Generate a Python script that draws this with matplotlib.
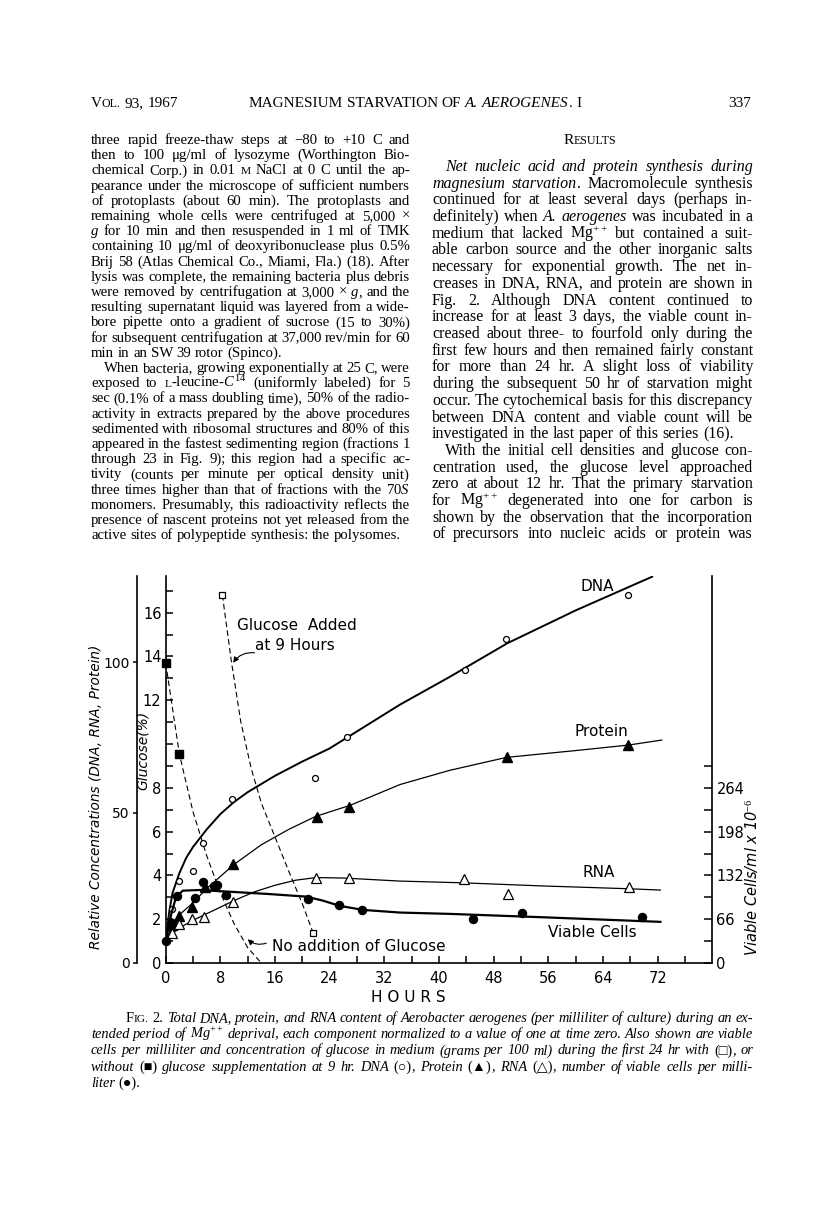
import matplotlib
matplotlib.use("Agg")
import matplotlib.pyplot as plt

W, H = 816, 1205
SERIF = ["Liberation Serif", "DejaVu Sans"]
SANS = ["DejaVu Sans"]

plt.rcParams["mathtext.fontset"] = "custom"
plt.rcParams["mathtext.rm"] = "Liberation Serif"
plt.rcParams["mathtext.it"] = "Liberation Serif:italic"
plt.rcParams["mathtext.bf"] = "Liberation Serif:bold"

# ---- page text ('*' toggles italic, '~' toggles small caps) ----
left_lines = [
    ("three rapid freeze-thaw steps at \u221280 to +10 C and", True, 0),
    ("then to 100 \u03bcg/ml of lysozyme (Worthington Bio-", True, 0),
    ("chemical Corp.) in 0.01 ~M~ NaCl at 0 C until the ap-", True, 0),
    ("pearance under the microscope of sufficient numbers", True, 0),
    ("of protoplasts (about 60 min). The protoplasts and", True, 0),
    ("remaining whole cells were centrifuged at 5,000 \u00d7", True, 0),
    ("*g* for 10 min and then resuspended in 1 ml of TMK", True, 0),
    ("containing 10 \u03bcg/ml of deoxyribonuclease plus 0.5%", True, 0),
    ("Brij 58 (Atlas Chemical Co., Miami, Fla.) (18). After", True, 0),
    ("lysis was complete, the remaining bacteria plus debris", True, 0),
    ("were removed by centrifugation at 3,000 \u00d7 *g*, and the", True, 0),
    ("resulting supernatant liquid was layered from a wide-", True, 0),
    ("bore pipette onto a gradient of sucrose (15 to 30%)", True, 0),
    ("for subsequent centrifugation at 37,000 rev/min for 60", True, 0),
    ("min in an SW 39 rotor (Spinco).", False, 0),
    ("When bacteria, growing exponentially at 25 C, were", True, 1),
    ("exposed to ~L~-leucine-$C^{14}$ (uniformly labeled) for 5", True, 0),
    ("sec (0.1% of a mass doubling time), 50% of the radio-", True, 0),
    ("activity in extracts prepared by the above procedures", True, 0),
    ("sedimented with ribosomal structures and 80% of this", True, 0),
    ("appeared in the fastest sedimenting region (fractions 1", True, 0),
    ("through 23 in Fig. 9); this region had a specific ac-", True, 0),
    ("tivity (counts per minute per optical density unit)", True, 0),
    ("three times higher than that of fractions with the 70$S$", True, 0),
    ("monomers. Presumably, this radioactivity reflects the", True, 0),
    ("presence of nascent proteins not yet released from the", True, 0),
    ("active sites of polypeptide synthesis: the polysomes.", False, 0),
]

right_lines = [
    ("*Net nucleic acid and protein synthesis during*", True, 1),
    ("*magnesium starvation*. Macromolecule synthesis", True, 0),
    ("continued for at least several days (perhaps in-", True, 0),
    ("definitely) when *A. aerogenes* was incubated in a", True, 0),
    ("medium that lacked Mg$^{++}$ but contained a suit-", True, 0),
    ("able carbon source and the other inorganic salts", True, 0),
    ("necessary for exponential growth. The net in-", True, 0),
    ("creases in DNA, RNA, and protein are shown in", True, 0),
    ("Fig. 2. Although DNA content continued to", True, 0),
    ("increase for at least 3 days, the viable count in-", True, 0),
    ("creased about three- to fourfold only during the", True, 0),
    ("first few hours and then remained fairly constant", True, 0),
    ("for more than 24 hr. A slight loss of viability", True, 0),
    ("during the subsequent 50 hr of starvation might", True, 0),
    ("occur. The cytochemical basis for this discrepancy", True, 0),
    ("between DNA content and viable count will be", True, 0),
    ("investigated in the last paper of this series (16).", False, 0),
    ("With the initial cell densities and glucose con-", True, 1),
    ("centration used, the glucose level approached", True, 0),
    ("zero at about 12 hr. That the primary starvation", True, 0),
    ("for Mg$^{++}$ degenerated into one for carbon is", True, 0),
    ("shown by the observation that the incorporation", True, 0),
    ("of precursors into nucleic acids or protein was", True, 0),
]

caption_lines = [
    ("F~IG.~ 2. *Total DNA, protein, and RNA content of Aerobacter aerogenes (per milliliter of culture) during an ex-*", True, 1),
    ("*tended period of Mg$^{++}$ deprival, each component normalized to a value of one at time zero. Also shown are viable*", True, 0),
    ("*cells per milliliter and concentration of glucose in medium (grams per 100 ml) during the first 24 hr with* (\u25a1)*, or*", True, 0),
    ("*without* (\u25a0) *glucose supplementation at 9 hr. DNA* (\u25cb)*, Protein* (\u25b2)*, RNA* (\u25b3)*, number of viable cells per milli-*", True, 0),
    ("*liter* (\u25cf).", False, 0),
]

# ---- chart data (hours vs. relative units on the 0-16 scale) ----
dna_h = [0, 0.9, 1.9, 3.95, 5.4, 9.7, 21.9, 26.6, 43.8, 49.8, 67.7]
dna_v = [1.0, 2.45, 3.74, 4.2, 5.5, 7.47, 8.45, 10.3, 13.4, 14.8, 16.8]
dna_fit_h = [0, 0.5, 1, 2, 3, 4, 6, 8, 10, 12, 16, 20, 24, 34.3, 41.6, 50, 60, 71.2]
dna_fit_v = [1.0, 2.3, 3.2, 4.1, 4.8, 5.3, 6.1, 6.8, 7.35, 7.8, 8.55, 9.2, 9.8, 11.8, 13.07, 14.6, 16.1, 17.64]

prot_h = [0.9, 1.9, 3.9, 5.8, 9.8, 22.1, 26.9, 49.9, 67.7]
prot_v = [1.73, 2.16, 2.57, 3.46, 4.5, 6.68, 7.14, 9.39, 9.95]
prot_fit_h = [0, 1, 2, 4, 6, 8, 10, 14, 18, 22, 27, 34.3, 41.6, 49.9, 60, 67.7, 72.6]
prot_fit_v = [1.0, 1.75, 2.2, 2.75, 3.4, 3.95, 4.5, 5.4, 6.1, 6.7, 7.2, 8.15, 8.8, 9.39, 9.7, 9.95, 10.18]

rna_h = [0.9, 1.9, 3.9, 5.65, 9.8, 22.0, 26.8, 43.6, 50.1, 67.8]
rna_v = [1.38, 1.78, 2.0, 2.11, 2.79, 3.88, 3.9, 3.82, 3.15, 3.46]
rna_fit_h = [0, 1, 2, 4, 6, 8, 10, 13, 16, 19, 22, 26, 34.3, 43.6, 55, 67.8, 72.4]
rna_fit_v = [1.0, 1.35, 1.6, 1.95, 2.25, 2.55, 2.85, 3.25, 3.55, 3.78, 3.9, 3.88, 3.74, 3.66, 3.52, 3.39, 3.33]

# viable cells per ml x 10^-6 (right axis)
cell_h = [0, 0.9, 1.7, 4.3, 5.5, 7.0, 7.5, 8.8, 20.9, 25.3, 28.8, 45.0, 52.1, 69.7]
cell_n = [33, 60, 101, 98, 122, 116, 118, 102, 97, 88, 80, 67, 76, 70]
cell_fit_h = [0, 0.8, 1.5, 2.5, 5, 10, 15, 20.6, 23, 25.5, 28.9, 34.3, 41.6, 55, 72.4]
cell_fit_n = [33, 73, 99, 109, 110, 107, 104, 100, 94, 86, 80, 76, 74, 69, 62]

# glucose, without (filled) and with (open) addition at 9 hr
gluc_no_h = [0, 2.0]
gluc_no_v = [13.7, 9.54]
gluc_no_fit_h = [0, 2, 4, 6, 8, 10, 12, 14]
gluc_no_fit_v = [13.7, 9.54, 6.9, 4.9, 3.2, 1.8, 0.7, 0.0]
gluc_add_h = [8.3, 21.6]
gluc_add_v = [16.8, 1.36]
gluc_add_fit_h = [8.3, 9.6, 11, 12.5, 14, 16, 18, 20, 21.6]
gluc_add_fit_v = [16.8, 13.8, 11.0, 8.9, 7.3, 5.75, 4.2, 2.7, 1.36]

x_ticks = [0, 8, 16, 24, 32, 40, 48, 56, 64, 72]
gluc_ticks = [0, 2, 4, 6, 8, 12, 14, 16]
rel_ticks = [0, 50, 100]
cell_ticks = [0, 66, 132, 198, 264]

fig = plt.figure(figsize=(W / 100, H / 100), dpi=100)
renderer = fig.canvas.get_renderer()


def fx(x):
    return x / W


def fy(y):
    return 1 - y / H


def parse_words(line, st):
    words = []
    for raw in line.split(" "):
        segs, buf, math = [], "", False
        for ch in raw:
            if ch == "$":
                math = not math
                buf += ch
            elif ch in "*~" and not math:
                if buf:
                    segs.append((buf, st["it"], st["sc"]))
                buf = ""
                if ch == "*":
                    st["it"] = not st["it"]
                else:
                    st["sc"] = not st["sc"]
            else:
                buf += ch
        if buf:
            segs.append((buf, st["it"], st["sc"]))
        if segs:
            words.append(segs)
    return words


def width(t):
    return t.get_window_extent(renderer).width


def space_width(size, family):
    a = fig.text(0, 0, "n n", fontsize=size, family=family)
    b = fig.text(0, 0, "nn", fontsize=size, family=family)
    sp = width(a) - width(b)
    a.remove()
    b.remove()
    return sp


def block(lines, x0, x1, ys, size, indent=13, family=SERIF, min_gap=0.7):
    st = {"it": False, "sc": False}
    sp0 = space_width(size, family)
    for (text, just, ind), y in zip(lines, ys):
        words = []
        for w in parse_words(text, st):
            segs = []
            for s, it, sc in w:
                t = fig.text(0, 0, s, fontsize=size * (0.78 if sc else 1.0),
                             fontstyle="italic" if it else "normal",
                             family=family, ha="left", va="baseline")
                segs.append([t, width(t)])
            words.append(segs)
        start = x0 + ind * indent
        avail = x1 - start
        total = sum(s[1] for w in words for s in w)
        sp = sp0
        natural = total + min_gap * sp * (len(words) - 1)
        if natural > avail:
            k = avail / natural
            for w in words:
                for s in w:
                    s[0].set_fontsize(s[0].get_fontsize() * k)
                    s[1] *= k
            total *= k
            sp *= k
        gap = (avail - total) / max(len(words) - 1, 1) if just else sp
        x = start
        for w in words:
            for t, wd in w:
                t.set_position((fx(x), fy(y + 4)))
                x += wd
            x += gap


def line_at(text, x, y, size, ha="left", family=SERIF):
    st = {"it": False, "sc": False}
    pieces = []
    for w in parse_words(text, st):
        for s, it, sc in w:
            t = fig.text(0, 0, s, fontsize=size * (0.78 if sc else 1.0),
                         fontstyle="italic" if it else "normal",
                         family=family, ha="left", va="baseline")
            pieces.append([t, width(t)])
        pieces.append(None)
    sp = space_width(size, family)
    pieces = pieces[:-1]
    total = sum(p[1] if p else sp for p in pieces)
    if ha == "center":
        x -= total / 2
    elif ha == "right":
        x -= total
    for p in pieces:
        if p is None:
            x += sp
        else:
            p[0].set_position((fx(x), fy(y + 4)))
            x += p[1]


# header
line_at("V~OL.~ 93, 1967", 91, 103, 11)
line_at("MAGNESIUM STARVATION OF *A. AEROGENES*. I", 415, 103, 11, ha="center")
line_at("337", 751, 103, 11, ha="right")
line_at("R~ESULTS~", 590, 140, 11, ha="center")

block(left_lines, 91, 410, [140 + i * 15.2 for i in range(len(left_lines))], 10.6)
block(right_lines, 432, 753, [167 + i * 16.7 for i in range(len(right_lines))], 11.5)
block(caption_lines, 91, 753, [1018 + i * 16.2 for i in range(len(caption_lines))], 10.4,
      indent=35)

# ---- chart ----
x_left, x_right, y_bot, y_top = 165.7, 712.3, 963, 576
ax = fig.add_axes([fx(x_left), fy(y_bot), (x_right - x_left) / W, (y_bot - y_top) / H])
inner_top = (y_bot - y_top) / 21.9
ax.set_xlim(0, 80)
ax.set_ylim(0, inner_top)
ax.patch.set_alpha(0)
ax.spines["top"].set_visible(False)
ax.spines["right"].set_visible(False)
for sp_ in ("left", "bottom"):
    ax.spines[sp_].set_linewidth(1.2)
ax.set_xticks(x_ticks)
ax.set_xticks(range(0, 80, 4), minor=True)
ax.set_yticks(gluc_ticks)
ax.set_yticks(range(0, 18), minor=True)
ax.tick_params(which="both", direction="in", width=1.1, colors="k", labelsize=10.5)
ax.tick_params(axis="x", which="major", length=5, pad=6)
ax.tick_params(axis="x", which="minor", length=5)
ax.tick_params(axis="y", which="both", length=5, pad=3)
for lab in ax.get_xticklabels() + ax.get_yticklabels():
    lab.set_family(SANS)

ax2 = ax.twinx()
ax2.set_ylim(0, inner_top * 33)
ax2.spines["top"].set_visible(False)
ax2.spines["left"].set_visible(False)
ax2.spines["bottom"].set_visible(False)
ax2.spines["right"].set_linewidth(1.2)
ax2.set_yticks(cell_ticks)
ax2.set_yticks(range(0, 298, 33), minor=True)
ax2.tick_params(which="both", direction="in", length=6, width=1.1, pad=3, labelsize=10.5)

ax3 = ax.twinx()
ax3.set_ylim(0, inner_top * 7.28)
ax3.yaxis.set_ticks_position("left")
ax3.yaxis.set_label_position("left")
for s in ("top", "right", "bottom"):
    ax3.spines[s].set_visible(False)
ax3.spines["left"].set_position(("outward", 29 * 0.72))
ax3.spines["left"].set_linewidth(1.2)
ax3.set_yticks(rel_ticks)
ax3.tick_params(direction="out", length=3, width=1.1, pad=2, labelsize=10)

# curves
ax.plot(dna_fit_h, dna_fit_v, color="k", lw=1.4)
ax.plot(prot_fit_h, prot_fit_v, color="k", lw=0.9)
ax.plot(rna_fit_h, rna_fit_v, color="k", lw=0.9)
ax2.plot(cell_fit_h, cell_fit_n, color="k", lw=1.6)
ax.plot(gluc_no_fit_h, gluc_no_fit_v, color="k", lw=0.8, dashes=(5, 3))
ax.plot(gluc_add_fit_h, gluc_add_fit_v, color="k", lw=0.8, dashes=(5, 3))

ax.plot(dna_h, dna_v, "o", ms=4.3, mfc="white", mec="k", mew=0.9, clip_on=False)
ax.plot(prot_h, prot_v, "^", ms=7, mfc="k", mec="k", clip_on=False)
ax.plot(rna_h, rna_v, "^", ms=6.5, mfc="white", mec="k", mew=0.9, clip_on=False)
ax2.plot(cell_h, cell_n, "o", ms=5.8, mfc="k", mec="k", clip_on=False)
ax.plot(gluc_no_h, gluc_no_v, "s", ms=5.5, mfc="k", mec="k", clip_on=False)
ax.plot(gluc_add_h, gluc_add_v, "s", ms=5, mfc="white", mec="k", mew=0.9, clip_on=False)

lab_kw = dict(fontsize=11, family=SANS, color="k")
ax.text(63.1, 17.2, "DNA", ha="center", va="center", **lab_kw)
ax.text(63.7, 10.55, "Protein", ha="center", va="center", **lab_kw)
ax.text(63.4, 4.11, "RNA", ha="center", va="center", **lab_kw)
ax.text(62.4, 1.41, "Viable Cells", ha="center", va="center", **lab_kw)
ax.text(10.4, 15.43, "Glucose  Added", ha="left", va="center", **lab_kw)
ax.text(13.1, 14.5, "at 9 Hours", ha="left", va="center", **lab_kw)
ax.text(15.6, 0.74, "No addition of Glucose", ha="left", va="center", **lab_kw)
ax.annotate("", xy=(9.66, 13.6), xytext=(13.4, 14.15),
            arrowprops=dict(arrowstyle="-|>", color="k", lw=0.8, mutation_scale=8,
                            connectionstyle="arc3,rad=0.35"))
ax.annotate("", xy=(11.7, 1.17), xytext=(15.1, 0.95),
            arrowprops=dict(arrowstyle="-|>", color="k", lw=0.8, mutation_scale=8,
                            connectionstyle="arc3,rad=-0.35"))

fig.text(fx(408), fy(997), "H O U R S", ha="center", va="center", fontsize=11, family=SANS)
fig.text(fx(143), fy(750), "Glucose(%)", rotation=90, ha="center", va="center",
         fontsize=10, fontstyle="italic", family=SANS)
fig.text(fx(96), fy(797), "Relative Concentrations (DNA, RNA, Protein)", rotation=90,
         ha="center", va="center", fontsize=9.8, fontstyle="italic", family=SANS)
fig.text(fx(751), fy(877), "Viable Cells/ml x 10$^{-6}$", rotation=90, ha="center",
         va="center", fontsize=10.5, fontstyle="italic", family=SANS)

fig.savefig("out.png", dpi=100, facecolor="white")
